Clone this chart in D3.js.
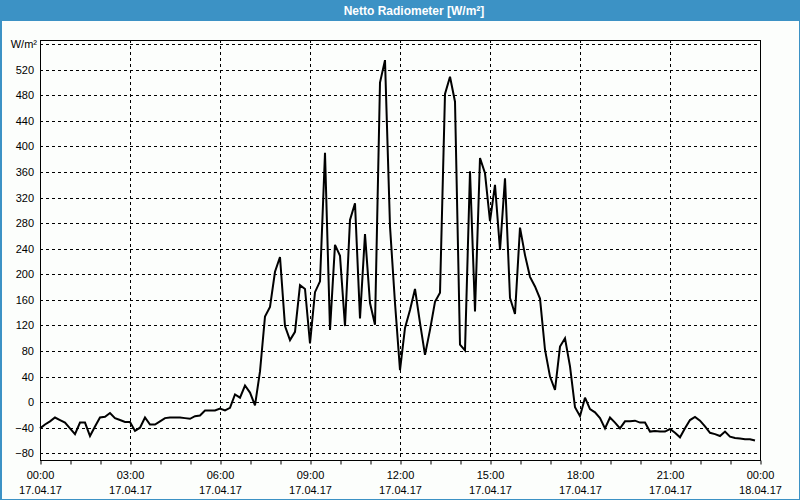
<!DOCTYPE html>
<html>
<head>
<meta charset="utf-8">
<script src="https://cdn.jsdelivr.net/npm/d3@7/dist/d3.min.js"></script>
<style>
  html, body { margin: 0; padding: 0; background: #fcfefc; }
  svg { display: block; }
  text { font-family: "Liberation Sans", Arial, sans-serif; }
</style>
</head>
<body>
<svg id="chart" width="800" height="500"></svg>
<script>
// ---- Data ----
const title = "Netto Radiometer [W/m²]";
const unitLabel = "W/m²";
const startTime = "2017-04-17T00:00:00";
const endTime = "2017-04-18T00:00:00";
const stepMinutes = 10;
// measured values, one every 10 minutes starting 17.04.17 00:00
const values = [
  -41, -35, -30, -24, -28, -32, -41, -50, -32, -32, -53, -38,   // 00:00-01:50
  -24, -23, -17, -25, -28, -31, -31, -45, -40, -24, -35, -35,   // 02:00-03:50
  -30, -25, -24, -24, -24, -25, -26, -22, -21, -13, -13, -13,   // 04:00-05:50
  -10, -13, -9, 12, 7, 26, 15, -5, 48, 134, 149, 204,           // 06:00-07:50
  227, 119, 97, 110, 183, 177, 92, 172, 189, 390, 113, 246,     // 08:00-09:50
  229, 119, 285, 311, 131, 263, 155, 121, 500, 535, 275, 155,   // 10:00-11:50
  50, 116, 144, 177, 124, 74, 113, 157, 171, 482, 509, 470,     // 12:00-13:50
  90, 81, 361, 142, 382, 358, 283, 340, 238, 350, 163, 138,     // 14:00-15:50
  273, 230, 196, 181, 162, 82, 40, 19, 87, 100, 56, -8,         // 16:00-17:50
  -22, 7, -11, -16, -25, -41, -24, -32, -41, -30, -30, -29,     // 18:00-19:50
  -32, -32, -46, -45, -46, -46, -42, -48, -55, -41, -28, -23,   // 20:00-21:50
  -29, -38, -48, -50, -53, -46, -54, -56, -57, -58, -58, -60    // 22:00-23:50
];
const yTicks = [-80, -40, 0, 40, 80, 120, 160, 200, 240, 280, 320, 360, 400, 440, 480, 520];
const yTop = 560;

// ---- Layout ----
const W = 800, H = 500;
const plot = { left: 40, right: 760, top: 40, bottom: 460 };

const svg = d3.select("#chart");
const parse = d3.timeParse("%Y-%m-%dT%H:%M:%S");
const t0 = parse(startTime), t1 = parse(endTime);
const data = values.map((v, i) => ({ t: d3.timeMinute.offset(t0, i * stepMinutes), v }));

const x = d3.scaleTime().domain([t0, t1]).range([plot.left, plot.right]);
const y = d3.scaleLinear().domain([-90.5, 566.5]).range([plot.bottom, plot.top]);

// background
svg.append("rect").attr("x", 0).attr("y", 0).attr("width", W).attr("height", H).attr("fill", "#fcfefc");

// title bar
svg.append("rect").attr("x", 0).attr("y", 0).attr("width", W).attr("height", 21).attr("fill", "#3c92c5");
svg.append("text").attr("x", 414).attr("y", 15).attr("text-anchor", "middle")
  .attr("fill", "#ffffff").attr("font-weight", "bold").attr("font-size", "12px").text(title);

// outer blue border
svg.append("rect").attr("x", 0.5).attr("y", 0.5).attr("width", W - 1).attr("height", H - 1)
  .attr("fill", "none").attr("stroke", "#3c92c5").attr("stroke-width", 1);
svg.append("line").attr("x1", 1.5).attr("x2", 1.5).attr("y1", 0).attr("y2", H)
  .attr("stroke", "#3c92c5").attr("stroke-width", 1);

// horizontal grid
const gridY = yTicks.concat([yTop]);
svg.append("g").selectAll("line").data(gridY).join("line")
  .attr("x1", plot.left).attr("x2", plot.right)
  .attr("y1", d => Math.round(y(d)) + 0.5).attr("y2", d => Math.round(y(d)) + 0.5)
  .attr("stroke", "#000").attr("stroke-width", 1).attr("stroke-dasharray", "3,3");

// vertical grid every 3h
const majorTimes = d3.timeHour.every(3).range(t0, d3.timeMinute.offset(t1, 1));
svg.append("g").selectAll("line").data(majorTimes.slice(1, -1)).join("line")
  .attr("x1", d => Math.round(x(d)) + 0.5).attr("x2", d => Math.round(x(d)) + 0.5)
  .attr("y1", plot.top).attr("y2", plot.bottom)
  .attr("stroke", "#000").attr("stroke-width", 1).attr("stroke-dasharray", "3,3");

// plot frame
svg.append("rect").attr("x", plot.left + 0.5).attr("y", plot.top + 0.5)
  .attr("width", plot.right - plot.left).attr("height", plot.bottom - plot.top)
  .attr("fill", "none").attr("stroke", "#000").attr("stroke-width", 1);

// x axis: hourly minor ticks
const xMinor = d3.axisBottom(x).ticks(d3.timeHour.every(1)).tickSize(4).tickFormat("");
const gMinor = svg.append("g").attr("transform", `translate(0.5,${plot.bottom + 0.5})`).call(xMinor);
gMinor.select(".domain").remove();
gMinor.selectAll("line").attr("stroke", "#000");

// x axis labels every 3h
const fmtTime = d3.timeFormat("%H:%M");
const fmtDate = d3.timeFormat("%d.%m.%y");
const xMajor = d3.axisBottom(x).ticks(d3.timeHour.every(3)).tickSize(0).tickFormat("");
const gMajor = svg.append("g").attr("transform", `translate(0,${plot.bottom})`).call(xMajor);
gMajor.select(".domain").remove();
gMajor.selectAll(".tick").each(function(d) {
  const g = d3.select(this);
  g.select("text").remove();
  g.append("text").attr("y", 18.5).attr("text-anchor", "middle").attr("fill", "#000")
    .attr("font-size", "11px").text(fmtTime(d));
  g.append("text").attr("y", 33.5).attr("text-anchor", "middle").attr("fill", "#000")
    .attr("font-size", "11px").text(fmtDate(d));
});

// y axis labels
const yAxis = d3.axisLeft(y).tickValues(yTicks).tickSize(0).tickPadding(6);
const gy = svg.append("g").attr("transform", `translate(${plot.left},0)`).call(yAxis);
gy.select(".domain").remove();
gy.selectAll("text").attr("font-size", "11px").attr("fill", "#000")
  .attr("font-family", "Liberation Sans, Arial, sans-serif");
svg.append("text").attr("x", plot.left - 3).attr("y", y(yTop)).attr("dy", "0.32em")
  .attr("text-anchor", "end").attr("font-size", "11px").attr("fill", "#000").text(unitLabel);

// data line
const line = d3.line().x(d => x(d.t)).y(d => y(d.v));
svg.append("path").datum(data).attr("d", line)
  .attr("fill", "none").attr("stroke", "#000").attr("stroke-width", 2)
  .attr("stroke-linejoin", "miter").attr("stroke-miterlimit", 3);
</script>
</body>
</html>
